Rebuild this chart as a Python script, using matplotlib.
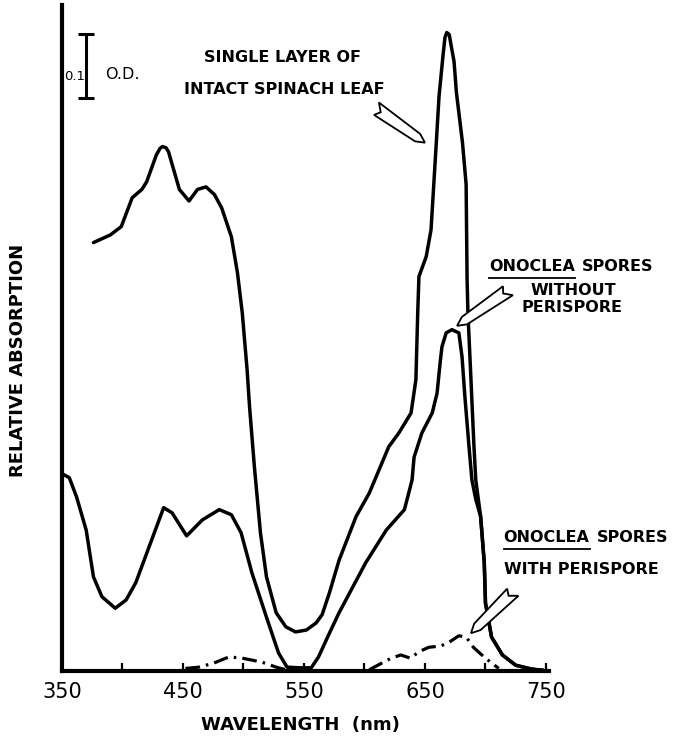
import matplotlib
matplotlib.use("Agg")
import matplotlib.pyplot as plt
import numpy as np
from matplotlib.patches import Polygon


# -----------------------------------------------------------------------
# Data (wavelength in nm, absorption in O.D. units)
# -----------------------------------------------------------------------

spinach_wl = [376, 390, 399, 408, 416, 420, 428, 431, 433, 436, 438, 447,
              455, 462, 469, 476, 482, 490, 495, 499, 503, 505, 509, 514,
              519, 527, 535, 543, 552, 560, 565, 571, 579, 593, 604, 612,
              620, 628.5, 638.5, 642.5, 644, 645, 651, 655, 657.5, 659,
              661.6, 665, 666.5, 668, 670, 671.5, 674, 676, 681, 684,
              684.8, 685.5, 688, 690.5, 692, 696, 699, 700, 705, 714, 725,
              738, 748]
spinach_od = [0.669, 0.681, 0.694, 0.739, 0.752, 0.764, 0.806, 0.816, 0.819,
              0.817, 0.811, 0.752, 0.734, 0.752, 0.756, 0.744, 0.723, 0.678,
              0.622, 0.559, 0.470, 0.413, 0.319, 0.216, 0.147, 0.091, 0.069,
              0.061, 0.064, 0.075, 0.088, 0.122, 0.173, 0.241, 0.278, 0.314,
              0.350, 0.372, 0.403, 0.455, 0.559, 0.616, 0.647, 0.689, 0.767,
              0.814, 0.897, 0.963, 0.989, 0.997, 0.994, 0.978, 0.952, 0.903,
              0.825, 0.760, 0.611, 0.559, 0.455, 0.350, 0.298, 0.241, 0.169,
              0.106, 0.053, 0.025, 0.009, 0.003, 0.001]

bare_wl = [350, 356, 362, 370, 376, 383, 394, 403, 411, 422, 434, 441, 453,
           466, 480, 490, 498, 507, 519, 529, 536, 546, 556, 562, 571, 579,
           601, 618, 633, 639.3, 641, 647.5, 656, 660, 662.5, 664, 667.5,
           672.3, 678, 680.6, 683, 686.4, 688.8, 692, 696, 699, 700, 705,
           714, 725, 738, 748]
bare_od = [0.308, 0.302, 0.272, 0.220, 0.147, 0.116, 0.098, 0.111, 0.138,
           0.194, 0.255, 0.247, 0.211, 0.236, 0.252, 0.244, 0.216, 0.153,
           0.084, 0.028, 0.006, 0.005, 0.005, 0.022, 0.059, 0.091, 0.169,
           0.220, 0.252, 0.298, 0.334, 0.372, 0.403, 0.434, 0.481, 0.506,
           0.528, 0.533, 0.528, 0.491, 0.428, 0.350, 0.298, 0.268, 0.241,
           0.169, 0.106, 0.053, 0.025, 0.009, 0.003, 0.001]

# spores with perispore: two low bumps (gap where it runs along the axis)
peri_wl = [452, 463, 475, 488, 499, 515, 527, 535, np.nan,
           604, 622, 630, 638, 645, 653, 663, 670, 678, 684, 690, 697,
           704, 711]
peri_od = [0.004, 0.006, 0.012, 0.022, 0.020, 0.014, 0.006, 0.002, np.nan,
           0.002, 0.020, 0.025, 0.020, 0.030, 0.037, 0.039, 0.045, 0.055,
           0.053, 0.037, 0.025, 0.014, 0.004]

tick_values = [350, 400, 450, 500, 550, 600, 650, 700, 750]
tick_labels = ["350", "", "450", "", "550", "", "650", "", "750"]

od_bar = 0.1          # length of the O.D. scale bar
od_bar_wl = 370       # where the scale bar sits
od_bar_top = 0.994


# -----------------------------------------------------------------------
# Figure
# -----------------------------------------------------------------------

plt.rcParams["font.family"] = "DejaVu Sans"

fig = plt.figure(figsize=(6.81, 7.37), dpi=100)
ax = fig.add_axes([62 / 681, 66 / 737, 487 / 681, 666 / 737])

ax.plot(spinach_wl, spinach_od, color="black", lw=2.5,
        solid_joinstyle="round", solid_capstyle="round")
ax.plot(bare_wl, bare_od, color="black", lw=2.5,
        solid_joinstyle="round", solid_capstyle="round")
ax.plot(peri_wl, peri_od, color="black", lw=2.3,
        linestyle=(0, (4.6, 1.9, 0.8, 1.9)))

ax.set_xlim(350, 752.5)
ax.set_ylim(0, 1.04)

for side in ["top", "right"]:
    ax.spines[side].set_visible(False)
for side in ["left", "bottom"]:
    ax.spines[side].set_linewidth(3)

ax.set_xticks(tick_values)
ax.set_xticklabels(tick_labels)
ax.set_yticks([])
ax.tick_params(axis="x", direction="in", length=6, width=1.6,
               labelsize=15, pad=8)

ax.set_xlabel("WAVELENGTH  (nm)", fontsize=13, fontweight="bold")
ax.xaxis.set_label_coords(0.49, -0.068)
ax.set_ylabel("RELATIVE ABSORPTION", fontsize=13, fontweight="bold")
ax.yaxis.set_label_coords(-0.072, 0.467)

# 0.1 O.D. scale bar
ax.errorbar([od_bar_wl], [od_bar_top - od_bar / 2], yerr=od_bar / 2,
            color="black", lw=2.2, capsize=6, capthick=2.2, clip_on=False)
ax.text(od_bar_wl - 0.8, 0.928, "0.1", fontsize=9.5, ha="right",
        va="center")
ax.text(od_bar_wl + 16, 0.931, "O.D.", fontsize=11.5, ha="left",
        va="center")


# -----------------------------------------------------------------------
# Labels and hollow arrows
# -----------------------------------------------------------------------

label_kw = dict(fontsize=11.5, fontweight="bold", clip_on=False)

ax.text(532, 0.958, "SINGLE LAYER OF", ha="center", va="center", **label_kw)
ax.text(534, 0.908, "INTACT SPINACH LEAF", ha="center", va="center",
        **label_kw)


def spores_label(x, y, y_under):
    # "ONOCLEA" underlined, then "SPORES"
    t = ax.text(x, y, "ONOCLEA", ha="left", va="center", **label_kw)
    fig.canvas.draw()
    bb = t.get_window_extent().transformed(ax.transData.inverted())
    ax.plot([bb.x0, bb.x1], [y_under, y_under], color="black", lw=1.3,
            clip_on=False)
    ax.text(bb.x1 + 6, y, "SPORES", ha="left", va="center", **label_kw)


spores_label(703, 0.631, 0.613)
ax.text(773, 0.594, "WITHOUT", ha="center", va="center", **label_kw)
ax.text(771.5, 0.567, "PERISPORE", ha="center", va="center", **label_kw)

spores_label(715, 0.208, 0.191)
ax.text(715, 0.158, "WITH PERISPORE", ha="left", va="center", **label_kw)


def hollow_arrow(tail, tip, half=4.5):
    p0 = ax.transData.transform(tail)
    p1 = ax.transData.transform(tip)
    u = (p1 - p0) / np.hypot(*(p1 - p0))
    n = np.array([-u[1], u[0]])
    verts = [p1,
             p1 - 9 * u + n * half,
             p0 + n * (half + 2.5) - 2 * u,
             p0 + 5 * u,
             p0 - n * (half + 1.5) + 1 * u,
             p1 - 9 * u - n * half]
    verts = ax.transData.inverted().transform(np.array(verts))
    ax.add_patch(Polygon(verts, closed=True, facecolor="white",
                         edgecolor="black", lw=1.3, clip_on=False, zorder=5))


hollow_arrow((610, 0.877), (650, 0.825))
hollow_arrow((718, 0.594), (676.5, 0.539))
hollow_arrow((722, 0.123), (688, 0.059))

fig.savefig("out.png", dpi=100)
